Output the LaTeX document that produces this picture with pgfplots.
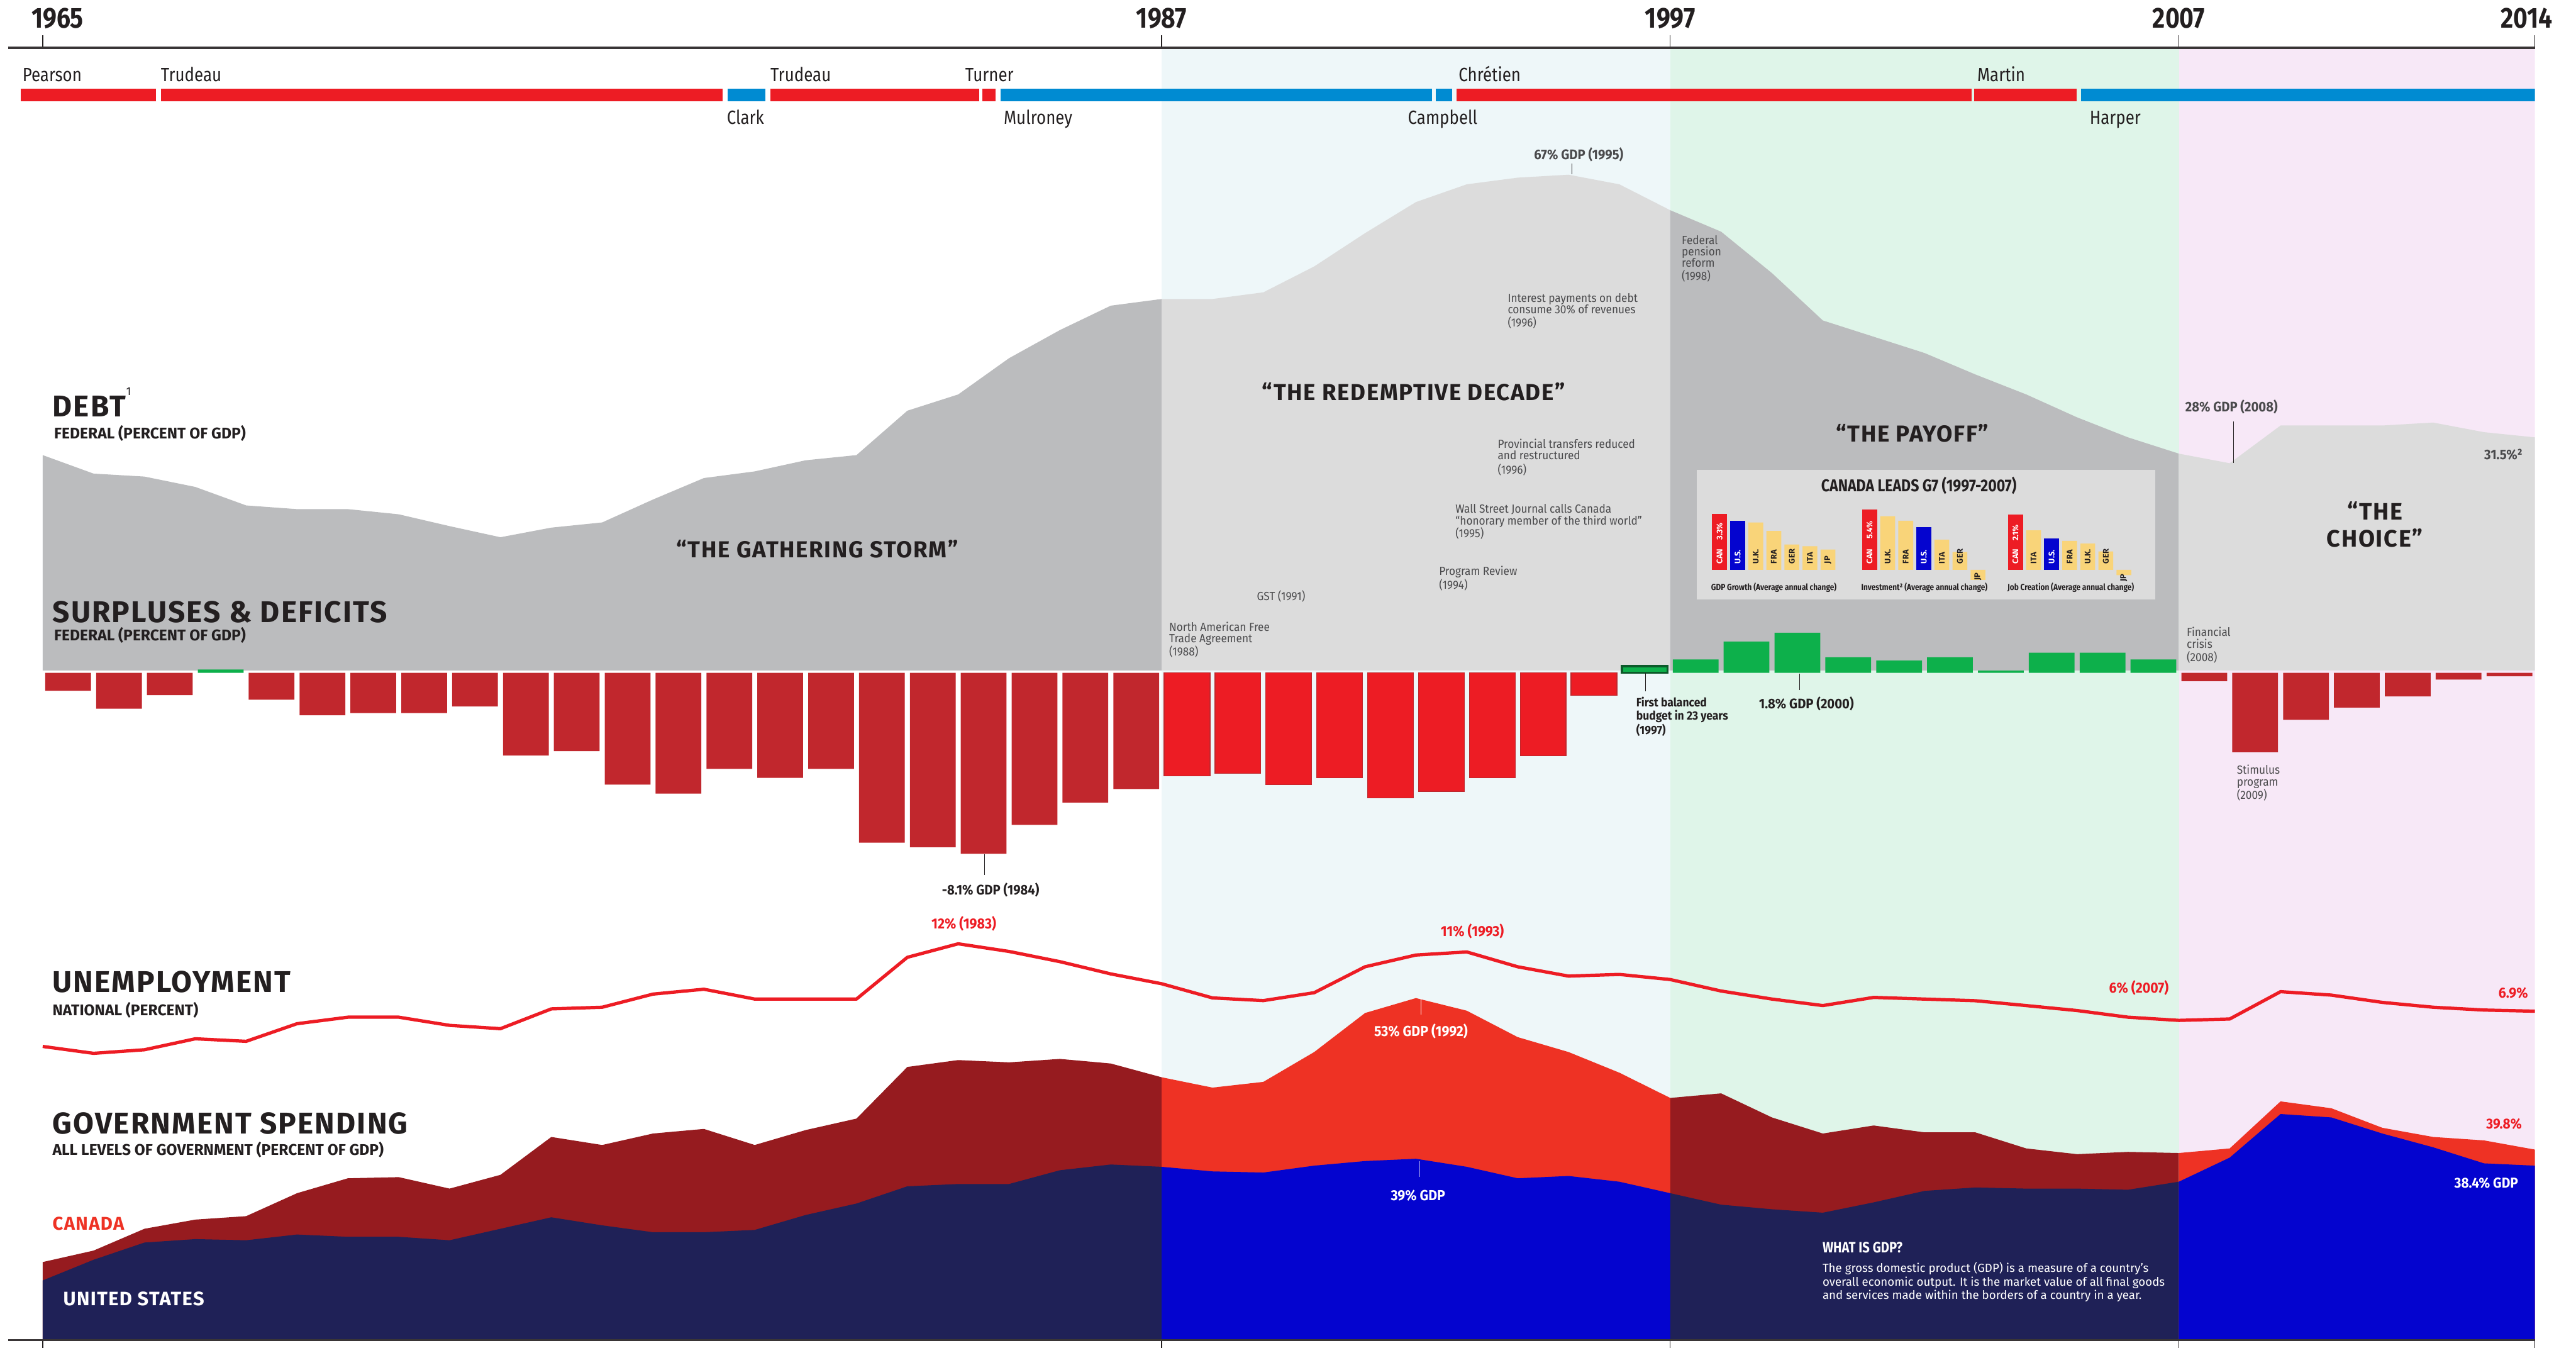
\documentclass[border=0pt]{standalone}
\usepackage{pgfplots}
\pgfplotsset{compat=1.18}
\usepackage{fontspec}
\setmainfont{Fira Sans}
\newfontfamily\cond[FakeStretch=0.85]{Fira Sans}
\newfontfamily\anf[FakeStretch=0.92]{Fira Sans}
\newfontfamily\wide[LetterSpace=4.5]{Fira Sans}
\newcommand\fs[1]{\fontsize{#1pt}{#1pt}\selectfont}
\definecolor{bandC}{HTML}{EEF7F9}
\definecolor{bandG}{HTML}{DFF5E9}
\definecolor{bandP}{HTML}{F7E8F7}
\definecolor{gDark}{HTML}{BBBCBE}
\definecolor{gLight}{HTML}{DCDCDC}
\definecolor{redDark}{HTML}{C1272D}
\definecolor{redBright}{HTML}{ED1C24}
\definecolor{grn}{HTML}{0DB04B}
\definecolor{grnDark}{HTML}{0B5A2A}
\definecolor{canDark}{HTML}{961B1F}
\definecolor{canBright}{HTML}{EE3224}
\definecolor{usDark}{HTML}{1F2157}
\definecolor{usBright}{HTML}{0404CF}
\definecolor{pmBlue}{HTML}{008BD2}
\definecolor{yel}{HTML}{F9D479}
\definecolor{ink}{HTML}{231F20}
\definecolor{note}{HTML}{4A4A4C}
\pgfplotsset{
  panel/.style={scale only axis, hide axis, xmin=1965, xmax=2014, width=379.26mm, anchor=south west},
  mini/.style={scale only axis, hide axis, xmin=-0.5, xmax=6.5, width=19.25mm, anchor=south west,
    ybar, bar width=0.82, bar shift=0pt},
  yearaxis/.style={scale only axis, width=384.52mm, height=3mm, xmin=1964.32, xmax=2014, ymin=0, ymax=1},
}
\tikzset{
  t/.style={inner sep=0pt, outer sep=0pt, anchor=base west},
  tc/.style={inner sep=0pt, outer sep=0pt, anchor=base},
  note/.style={t, text=note, font=\anf\fs{5.1}},
  bnote/.style={t, text=ink, font=\anf\bfseries\fs{5.2}},
  big/.style={t, text=ink, font=\wide\bfseries\fs{13}},
  sub/.style={t, text=ink, font=\bfseries\fs{6.7}},
  era/.style={tc, text=ink, font=\wide\bfseries\fs{10}},
  lab/.style={text=ink, font=\anf\bfseries\fs{6}},
  pm/.style={t, text=ink, font=\cond\fs{8.3}},
  bl/.style={inner sep=0pt, anchor=west, rotate=90, font=\bfseries\fs{3.5}},
  lead/.style={ink, line width=0.15mm},
}
\begin{document}
\begin{tikzpicture}
\path[use as bounding box] (0,0) rectangle (392mm,-205mm);

% era background bands
\begin{axis}[panel, at={(6.5mm,-203.75mm)}, height=196.5mm, ymin=0, ymax=1]
  \fill[bandC] (axis cs:1987,0) rectangle (axis cs:1997,1);
  \fill[bandG] (axis cs:1997,0) rectangle (axis cs:2007,1);
  \fill[bandP] (axis cs:2007,0) rectangle (axis cs:2014,1);
\end{axis}

% DEBT (percent of GDP)
\begin{axis}[panel, at={(6.5mm,-102mm)}, height=78.8mm, ymin=0, ymax=70]
\addplot[fill=gDark, draw=none] coordinates {(1965,29.1)(1966,26.6)(1967,26.2)(1968,24.8)(1969,22.3)(1970,21.8)(1971,21.8)(1972,21.1)(1973,19.5)(1974,18.0)(1975,19.3)(1976,20.0)(1977,23.1)(1978,26.0)(1979,26.9)(1980,28.4)(1981,29.1)(1982,35.1)(1983,37.3)(1984,42.2)(1985,46.0)(1986,49.3)(1987,50.2)} \closedcycle;
\addplot[fill=gLight, draw=none] coordinates {(1987,50.2)(1988,50.2)(1989,51.1)(1990,54.6)(1991,59.1)(1992,63.3)(1993,65.7)(1994,66.6)(1995,67.0)(1996,65.7)(1997,62.2)} \closedcycle;
\addplot[fill=gDark, draw=none] coordinates {(1997,62.2)(1998,59.3)(1999,53.7)(2000,47.3)(2001,45.1)(2002,42.9)(2003,40.0)(2004,37.3)(2005,34.2)(2006,31.5)(2007,29.3)} \closedcycle;
\addplot[fill=gLight, draw=none] coordinates {(2007,29.3)(2008,28.0)(2009,33.1)(2010,33.1)(2011,33.1)(2012,33.5)(2013,32.2)(2014,31.5)} \closedcycle;
\end{axis}

% SURPLUSES & DEFICITS (bar for year Y spans Y-1..Y)
\begin{axis}[panel, at={(6.5mm,-132.975mm)}, height=40.8mm, ymin=-9, ymax=3, ybar, bar width=0.9, bar shift=0pt]
\addplot[fill=redDark, draw=none] coordinates {(1965.5,-0.8)(1966.5,-1.6)(1967.5,-1.0)(1969.5,-1.2)(1970.5,-1.9)(1971.5,-1.8)(1972.5,-1.8)(1973.5,-1.5)(1974.5,-3.7)(1975.5,-3.5)(1976.5,-5.0)(1977.5,-5.4)(1978.5,-4.3)(1979.5,-4.7)(1980.5,-4.3)(1981.5,-7.6)(1982.5,-7.8)(1983.5,-8.1)(1984.5,-6.8)(1985.5,-5.8)(1986.5,-5.2)};
\addplot[fill=redBright, draw=redDark, line width=0.12mm] coordinates {(1987.5,-4.6)(1988.5,-4.5)(1989.5,-5.0)(1990.5,-4.7)(1991.5,-5.6)(1992.5,-5.3)(1993.5,-4.7)(1994.5,-3.7)(1995.5,-1.0)};
\addplot[fill=redDark, draw=none] coordinates {(2007.5,-0.37)(2008.5,-3.55)(2009.5,-2.1)(2010.5,-1.55)(2011.5,-1.05)(2012.5,-0.3)(2013.5,-0.15)};
\addplot[fill=grn, draw=none] coordinates {(1968.5,0.15)(1997.5,0.6)(1998.5,1.4)(1999.5,1.8)(2000.5,0.7)(2001.5,0.55)(2002.5,0.7)(2003.5,0.1)(2004.5,0.9)(2005.5,0.9)(2006.5,0.6)};
\addplot[fill=grn, draw=grnDark, line width=0.3mm] coordinates {(1996.5,0.3)};
\end{axis}

% G7 inset box
\begin{scope}[x=0.25mm,y=-0.25mm]
\fill[gLight] (1033,286) rectangle (1312,365);
\end{scope}
\begin{axis}[mini, at={(260.3mm,-86.7mm)}, height=9.0125mm, ymin=0, ymax=3.5]
\addplot[fill=redBright, draw=none] coordinates {(0,3.3)};
\addplot[fill=usBright, draw=none] coordinates {(1,2.9)};
\addplot[fill=yel, draw=none] coordinates {(2,2.8)(3,2.3)(4,1.5)(5,1.4)(6,1.2)};
\end{axis}
\begin{axis}[mini, at={(283.125mm,-89.25mm)}, height=12.75mm, ymin=-1.5, ymax=6]
\addplot[fill=redBright, draw=none] coordinates {(0,5.4)};
\addplot[fill=usBright, draw=none] coordinates {(3,3.8)};
\addplot[fill=yel, draw=none] coordinates {(1,4.8)(2,4.4)(4,2.7)(5,1.6)(6,-0.9)};
\end{axis}
\begin{axis}[mini, at={(305.325mm,-88.7mm)}, height=12mm, ymin=-0.5, ymax=2.5]
\addplot[fill=redBright, draw=none] coordinates {(0,2.1)};
\addplot[fill=usBright, draw=none] coordinates {(2,1.2)};
\addplot[fill=yel, draw=none] coordinates {(1,1.5)(3,1.1)(4,1.0)(5,0.7)(6,-0.2)};
\end{axis}

% UNEMPLOYMENT (percent)
\begin{axis}[panel, at={(6.5mm,-166.9mm)}, height=25.25mm, ymin=0, ymax=13, clip=false]
\addplot[redBright, line width=0.5mm, line join=round] coordinates {(1965,3.96)(1966,3.42)(1967,3.7)(1968,4.56)(1969,4.36)(1970,5.74)(1971,6.25)(1972,6.25)(1973,5.61)(1974,5.35)(1975,6.9)(1976,7.03)(1977,8.06)(1978,8.44)(1979,7.67)(1980,7.67)(1981,7.67)(1982,10.94)(1983,12.0)(1984,11.4)(1985,10.6)(1986,9.64)(1987,8.87)(1988,7.76)(1989,7.55)(1990,8.17)(1991,10.2)(1992,11.12)(1993,11.36)(1994,10.2)(1995,9.47)(1996,9.6)(1997,9.2)(1998,8.3)(1999,7.67)(2000,7.16)(2001,7.8)(2002,7.67)(2003,7.54)(2004,7.16)(2005,6.77)(2006,6.25)(2007,6.0)(2008,6.11)(2009,8.25)(2010,7.98)(2011,7.41)(2012,7.03)(2013,6.81)(2014,6.72)};
\end{axis}

% GOVERNMENT SPENDING (percent of GDP)
\begin{axis}[panel, at={(6.5mm,-203.75mm)}, height=55.39mm, ymin=23.28, ymax=55]
\addplot[fill=canDark, draw=none] coordinates {(1965,30.0)(1966,31.0)(1967,32.9)(1968,33.7)(1969,34.0)(1970,36.0)(1971,37.3)(1972,37.4)(1973,36.4)(1974,37.6)(1975,40.9)(1976,40.2)(1977,41.2)(1978,41.6)(1979,40.2)(1980,41.5)(1981,42.5)(1982,47.0)(1983,47.6)(1984,47.4)(1985,47.7)(1986,47.3)(1987,46.1)} \closedcycle;
\addplot[fill=canBright, draw=none] coordinates {(1987,46.1)(1988,45.2)(1989,45.7)(1990,48.3)(1991,51.7)(1992,53.0)(1993,51.9)(1994,49.6)(1995,48.3)(1996,46.5)(1997,44.3)} \closedcycle;
\addplot[fill=canDark, draw=none] coordinates {(1997,44.3)(1998,44.7)(1999,42.6)(2000,41.2)(2001,41.9)(2002,41.3)(2003,41.3)(2004,39.9)(2005,39.4)(2006,39.6)(2007,39.5)} \closedcycle;
\addplot[fill=canBright, draw=none] coordinates {(2007,39.5)(2008,39.9)(2009,44.0)(2010,43.4)(2011,41.7)(2012,40.9)(2013,40.6)(2014,39.8)} \closedcycle;
\addplot[fill=usDark, draw=none] coordinates {(1965,28.4)(1966,30.2)(1967,31.7)(1968,32.0)(1969,31.9)(1970,32.4)(1971,32.2)(1972,32.2)(1973,31.9)(1974,32.9)(1975,33.9)(1976,33.2)(1977,32.6)(1978,32.6)(1979,32.8)(1980,34.1)(1981,35.1)(1982,36.6)(1983,36.8)(1984,36.8)(1985,38.0)(1986,38.5)(1987,38.3)} \closedcycle;
\addplot[fill=usBright, draw=none] coordinates {(1987,38.3)(1988,37.9)(1989,37.8)(1990,38.4)(1991,38.8)(1992,39.0)(1993,38.3)(1994,37.3)(1995,37.5)(1996,37.0)(1997,36.0)} \closedcycle;
\addplot[fill=usDark, draw=none] coordinates {(1997,36.0)(1998,35.0)(1999,34.6)(2000,34.3)(2001,35.2)(2002,36.2)(2003,36.5)(2004,36.4)(2005,36.4)(2006,36.3)(2007,37.0)} \closedcycle;
\addplot[fill=usBright, draw=none] coordinates {(2007,37.0)(2008,39.1)(2009,42.9)(2010,42.6)(2011,41.2)(2012,40.0)(2013,38.6)(2014,38.4)} \closedcycle;
\end{axis}

% Prime ministers' terms
\begin{axis}[yearaxis, hide axis, at={(1.2375mm,-15.425mm)}, anchor=south west, height=1.925mm]
\addplot[fill=redBright, draw=none] coordinates {(1964.57,1)(1967.23,1)} \closedcycle;
\addplot[fill=redBright, draw=none] coordinates {(1967.33,1)(1978.37,1)} \closedcycle;
\addplot[fill=pmBlue, draw=none] coordinates {(1978.47,1)(1979.21,1)} \closedcycle;
\addplot[fill=redBright, draw=none] coordinates {(1979.31,1)(1983.41,1)} \closedcycle;
\addplot[fill=redBright, draw=none] coordinates {(1983.48,1)(1983.73,1)} \closedcycle;
\addplot[fill=pmBlue, draw=none] coordinates {(1983.83,1)(1992.31,1)} \closedcycle;
\addplot[fill=pmBlue, draw=none] coordinates {(1992.39,1)(1992.71,1)} \closedcycle;
\addplot[fill=redBright, draw=none] coordinates {(1992.80,1)(2002.92,1)} \closedcycle;
\addplot[fill=redBright, draw=none] coordinates {(2002.98,1)(2004.99,1)} \closedcycle;
\addplot[fill=pmBlue, draw=none] coordinates {(2005.08,1)(2014.0,1)} \closedcycle;
\end{axis}

% top year axis
\begin{axis}[yearaxis, at={(1.2375mm,-7.25mm)}, anchor=north west,
  axis x line*=top, axis y line=none,
  axis line style={-, draw=ink!90, line width=0.35mm},
  xtick={1965,1987,1997,2007,2014},
  xticklabels={\hspace*{4.5mm}1965,1987,1997,2007,2014\hspace*{2.5mm}},
  tick align=outside, major tick length=1.85mm, tick style={ink, line width=0.12mm},
  xticklabel style={font=\cond\bfseries\fs{12.5}, text=ink, inner sep=0pt, anchor=base, yshift=1.15mm}]
\end{axis}
% bottom axis
\begin{axis}[yearaxis, at={(1.2375mm,-203.875mm)}, anchor=south west,
  axis x line*=bottom, axis y line=none,
  axis line style={-, draw=ink!90, line width=0.25mm},
  xtick={1965,1987,1997,2007,2014}, xticklabels={},
  tick align=outside, major tick length=1.3mm, tick style={ink, line width=0.12mm}]
\end{axis}

% ---------- texts ----------
\begin{scope}[x=0.25mm,y=-0.25mm]
% PM names
\node[pm] at (13.7,49.5) {Pearson};
\node[pm] at (98,49.5) {Trudeau};
\node[pm] at (469,49.5) {Trudeau};
\node[pm] at (587.6,49.5) {Turner};
\node[pm] at (887.9,49.5) {Chrétien};
\node[pm] at (1203.6,49.5) {Martin};
\node[pm] at (442.5,75.5) {Clark};
\node[pm] at (611,75.5) {Mulroney};
\node[pm] at (857,75.5) {Campbell};
\node[pm] at (1272,75.5) {Harper};

% panel titles
\node[big] at (32,253.6) {DEBT\raisebox{1.35ex}{\mdseries\fs{5}1}};
\node[sub] at (33,267.1) {FEDERAL (PERCENT OF GDP)};
\node[big] at (32,378.9) {SURPLUSES \& DEFICITS};
\node[sub] at (33,389.9) {FEDERAL (PERCENT OF GDP)};
\node[big] at (32,604) {UNEMPLOYMENT};
\node[sub] at (32,618) {NATIONAL (PERCENT)};
\node[big] at (32,690) {GOVERNMENT SPENDING};
\node[sub] at (32,703) {ALL LEVELS OF GOVERNMENT (PERCENT OF GDP)};
\node[t, text=canBright, font=\wide\bfseries\fs{8}] at (32,748.6) {CANADA};
\node[t, text=white, font=\wide\bfseries\fs{8.4}] at (38.5,794.4) {UNITED STATES};

% era titles
\node[era] at (497.5,339.5) {“THE GATHERING STORM”};
\node[era] at (860.5,243.7) {“THE REDEMPTIVE DECADE”};
\node[era] at (1164,269) {“THE PAYOFF”};
\node[era, font=\wide\bfseries\fs{10.3}] at (1445.6,316.3) {“THE};
\node[era, font=\wide\bfseries\fs{10.3}] at (1445.6,333) {CHOICE”};

% debt annotations
\node[tc, text=note, font=\anf\bfseries\fs{6}] at (961,96.9) {67\% GDP (1995)};
\draw[lead] (956.8,99.4) -- (956.8,106.2);
\node[note] at (917.8,183.9) {Interest payments on debt};
\node[note] at (917.8,191) {consume 30\% of revenues};
\node[note] at (917.8,198.8) {(1996)};
\node[note] at (1023.7,148.7) {Federal};
\node[note] at (1023.7,155.8) {pension};
\node[note] at (1023.7,162.6) {reform};
\node[note] at (1023.7,170.7) {(1998)};
\node[note] at (911.7,272.9) {Provincial transfers reduced};
\node[note] at (911.7,279.8) {and restructured};
\node[note] at (911.7,288.3) {(1996)};
\node[note] at (886,312.1) {Wall Street Journal calls Canada};
\node[note] at (886,319.4) {“honorary member of the third world”};
\node[note] at (886,327) {(1995)};
\node[note] at (876,349.9) {Program Review};
\node[note] at (876,358.5) {(1994)};
\node[note] at (765.1,365.4) {GST (1991)};
\node[note] at (711.7,384.1) {North American Free};
\node[note] at (711.7,391) {Trade Agreement};
\node[note] at (711.7,399) {(1988)};
\node[note] at (1331.1,387.3) {Financial};
\node[note] at (1331.1,394.4) {crisis};
\node[note] at (1331.1,402.5) {(2008)};
\node[t, text=note, font=\anf\bfseries\fs{6}] at (1330.2,250.5) {28\% GDP (2008)};
\draw[lead, note] (1359.5,256.4) -- (1359.5,281.8);
\node[t, text=note, font=\anf\bfseries\fs{6}] at (1512.2,279.6) {31.5\%²};

% G7 inset texts
\node[tc, text=ink, font=\cond\bfseries\fs{7.4}] at (1168,299.3) {CANADA LEADS G7 (1997-2007)};
\node[t, text=ink, font=\cond\bfseries\fs{3.8}] at (1041.6,359.4) {GDP Growth (Average annual change)};
\node[t, text=ink, font=\cond\bfseries\fs{3.8}] at (1133,359.4) {Investment² (Average annual change)};
\node[t, text=ink, font=\cond\bfseries\fs{3.8}] at (1222,359.4) {Job Creation (Average annual change)};
\node[bl, white] at (1046.7,343.3) {CAN};
\node[bl, white] at (1046.7,329) {3.3\%};
\node[bl, white] at (1057.7,343.3) {U.S.};
\node[bl, ink] at (1068.7,343.3) {U.K.};
\node[bl, ink] at (1079.7,343.3) {FRA};
\node[bl, ink] at (1090.7,343.3) {GER};
\node[bl, ink] at (1101.7,343.3) {ITA};
\node[bl, ink] at (1112.7,343.3) {JP};
\node[bl, white] at (1138,343.3) {CAN};
\node[bl, white] at (1138,328) {5.4\%};
\node[bl, ink] at (1149,343.3) {U.K.};
\node[bl, ink] at (1160,343.3) {FRA};
\node[bl, white] at (1171,343.3) {U.S.};
\node[bl, ink] at (1182,343.3) {ITA};
\node[bl, ink] at (1193,343.3) {GER};
\node[bl, ink] at (1204,353.6) {JP};
\node[bl, white] at (1226.8,343.3) {CAN};
\node[bl, white] at (1226.8,329.5) {2.1\%};
\node[bl, ink] at (1237.8,343.3) {ITA};
\node[bl, white] at (1248.8,343.3) {U.S.};
\node[bl, ink] at (1259.8,343.3) {FRA};
\node[bl, ink] at (1270.8,343.3) {U.K.};
\node[bl, ink] at (1281.8,343.3) {GER};
\node[bl, ink] at (1292.8,354.1) {JP};

% deficit annotations
\node[tc, lab] at (603,544.6) {-8.1\% GDP (1984)};
\draw[lead] (599.3,519.7) -- (599.3,532.4);
\node[bnote] at (996,430.2) {First balanced};
\node[bnote] at (996,438.1) {budget in 23 years};
\node[bnote] at (996,446.8) {(1997)};
\draw[lead] (1001.7,409.7) -- (1001.7,420.7);
\node[t, lab] at (1070.7,431.3) {1.8\% GDP (2000)};
\draw[lead] (1095.5,409.9) -- (1095.5,419.9);
\node[note] at (1361.6,471) {Stimulus};
\node[note] at (1361.6,478.3) {program};
\node[note] at (1361.6,486.2) {(2009)};

% unemployment labels
\node[t, lab, text=redBright, font=\anf\bfseries\fs{6.3}] at (567,565.1) {12\% (1983)};
\node[t, lab, text=redBright, font=\anf\bfseries\fs{6.3}] at (877,570) {11\% (1993)};
\node[t, lab, text=redBright, font=\anf\bfseries\fs{6.3}] at (1283.8,604.2) {6\% (2007)};
\node[t, lab, text=redBright, font=\anf\bfseries\fs{6.3}] at (1520.9,607.4) {6.9\%};

% spending labels
\node[t, lab, text=white, font=\anf\bfseries\fs{6.3}] at (836.5,630.7) {53\% GDP (1992)};
\draw[white, line width=0.15mm] (865,607.4) -- (865,617.5);
\node[t, lab, text=white, font=\anf\bfseries\fs{6.3}] at (846.6,730.5) {39\% GDP};
\draw[white, line width=0.15mm] (863.8,706.8) -- (863.8,716.4);
\node[t, lab, text=redBright, font=\anf\bfseries\fs{6.2}] at (1513.4,687) {39.8\%};
\node[t, lab, text=white, font=\anf\bfseries\fs{6.2}] at (1494,723) {38.4\% GDP};
\node[t, text=white, font=\cond\bfseries\fs{6.5}] at (1109.4,762.4) {WHAT IS GDP?};
\node[t, text=white, font=\fs{5.1}] at (1109.4,774.4) {The gross domestic product (GDP) is a measure of a country's};
\node[t, text=white, font=\fs{5.1}] at (1109.4,782.5) {overall economic output. It is the market value of all final goods};
\node[t, text=white, font=\fs{5.1}] at (1109.4,790.7) {and services made within the borders of a country in a year.};
\end{scope}
\end{tikzpicture}
\end{document}
